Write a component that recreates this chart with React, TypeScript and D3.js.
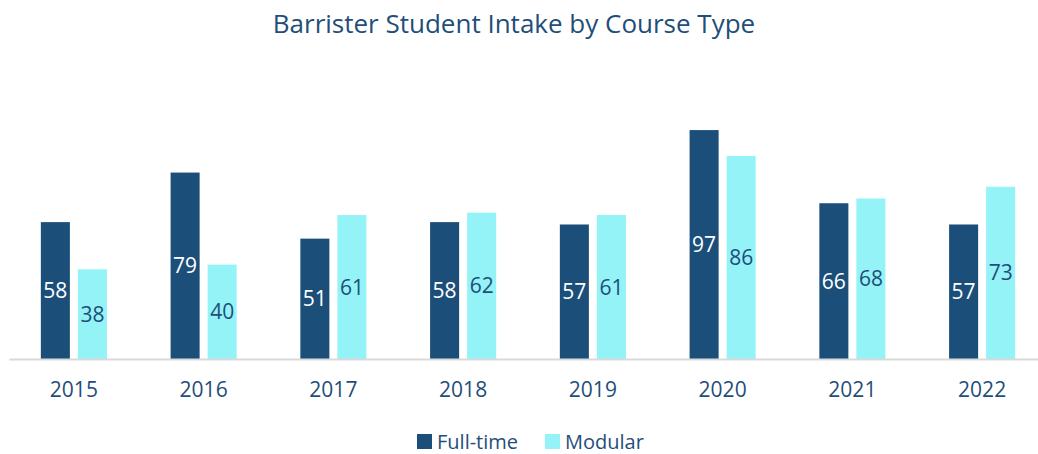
import React, { useEffect, useRef } from "react";
import * as d3 from "d3";

const years = ["2015", "2016", "2017", "2018", "2019", "2020", "2021", "2022"];
const fullTime = [58, 79, 51, 58, 57, 97, 66, 57];
const modular = [38, 40, 61, 62, 61, 86, 68, 73];
const seriesNames = ["Full-time", "Modular"];
const seriesColors = ["#1b4f7a", "#93f3f7"];
const labelColors = ["#ffffff", "#1f4e79"];

const App = () => {
    const svgRef = useRef<SVGSVGElement>(null);

    useEffect(() => {
        const width = 1038, height = 454;
        const font = "'Open Sans', 'Noto Sans', sans-serif";
        const textColor = "#1f4e79";

        const svg = d3.select(svgRef.current)
            .attr("width", width)
            .attr("height", height);

        svg.selectAll("*").remove();

        const x0 = d3.scaleBand()
            .domain(years)
            .range([9, 1047])
            .paddingInner(0)
            .paddingOuter(0);

        const x1 = d3.scaleBand()
            .domain(seriesNames)
            .range([0, x0.bandwidth()])
            .paddingInner(0.216)
            .paddingOuter(0.86);

        const y = d3.scaleLinear()
            .domain([0, 100])
            .range([359, 123]);

        // title
        svg.append("text")
            .attr("x", 514)
            .attr("y", 33)
            .attr("text-anchor", "middle")
            .attr("font-family", font)
            .attr("font-size", 26)
            .attr("fill", textColor)
            .text("Barrister Student Intake by Course Type");

        const rows = years.map((yr, i) => ({
            year: yr,
            values: [fullTime[i], modular[i]]
        }));

        const groups = svg.selectAll(".grp")
            .data(rows)
            .enter()
            .append("g")
            .attr("class", "grp")
            .attr("transform", d => `translate(${x0(d.year)},0)`);

        const cells = groups.selectAll(".cell")
            .data(d => d.values.map((v, s) => ({ v, s })))
            .enter()
            .append("g")
            .attr("class", "cell");

        cells.append("rect")
            .attr("x", d => x1(seriesNames[d.s]))
            .attr("y", d => y(d.v))
            .attr("width", x1.bandwidth())
            .attr("height", d => y(0) - y(d.v))
            .attr("fill", d => seriesColors[d.s]);

        cells.append("text")
            .attr("x", d => x1(seriesNames[d.s]) + x1.bandwidth() / 2)
            .attr("y", d => (y(d.v) + y(0)) / 2)
            .attr("dy", "0.36em")
            .attr("text-anchor", "middle")
            .attr("font-family", font)
            .attr("font-size", 21)
            .attr("fill", d => labelColors[d.s])
            .text(d => d.v);

        // x axis
        const axis = svg.append("g")
            .attr("transform", `translate(0, ${y(0)})`)
            .call(d3.axisBottom(x0).tickSize(0).tickPadding(23));

        axis.select(".domain")
            .attr("stroke", "#d9d9d9")
            .attr("stroke-width", 2);

        axis.selectAll("text")
            .attr("font-family", font)
            .attr("font-size", 21)
            .attr("fill", textColor);

        // legend
        const legendX = [417, 545];
        const legend = svg.selectAll(".leg")
            .data(seriesNames)
            .enter()
            .append("g")
            .attr("class", "leg")
            .attr("transform", (d, i) => `translate(${legendX[i]}, 434)`);

        legend.append("rect")
            .attr("width", 15)
            .attr("height", 15)
            .attr("fill", (d, i) => seriesColors[i]);

        legend.append("text")
            .attr("x", 20)
            .attr("y", 15)
            .attr("font-family", font)
            .attr("font-size", 20)
            .attr("fill", textColor)
            .text(d => d);
    }, []);

    return <svg ref={svgRef} style={{ position: "absolute", left: 0, top: 0 }}></svg>;
};

export default App;
